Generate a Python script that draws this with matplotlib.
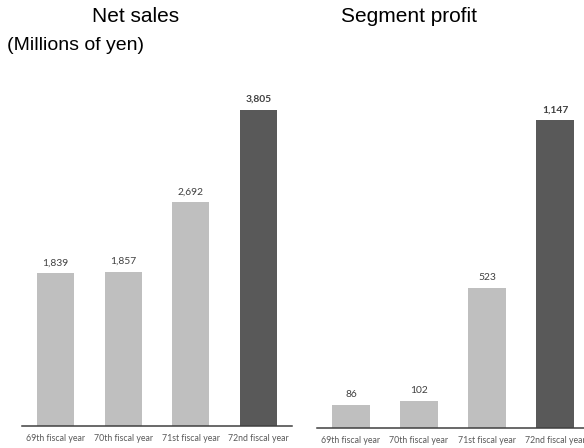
import matplotlib
matplotlib.use('Agg')
import matplotlib.pyplot as plt

# data
years = ['69th fiscal year', '70th fiscal year', '71st fiscal year', '72nd fiscal year']
net_sales = [1839, 1857, 2692, 3805]
segment_profit = [86, 102, 523, 1147]

LIGHT = '#bfbfbf'
DARK = '#595959'
W, H = 584, 448

fig = plt.figure(figsize=(W / 100, H / 100), dpi=100)


def px_axes(left, top, right, bottom):
    # axes placed in pixel coords (origin top-left)
    return fig.add_axes([left / W, 1 - bottom / H, (right - left) / W, (bottom - top) / H])


def draw_panel(ax, values, ymax):
    colors = [LIGHT] * (len(values) - 1) + [DARK]
    x = list(range(len(values)))
    bars = ax.bar(x, values, width=0.55, color=colors)
    ax.set_xlim(-0.5, len(values) - 0.5)
    ax.set_ylim(0, ymax)
    for s in ['top', 'right', 'left']:
        ax.spines[s].set_visible(False)
    ax.spines['bottom'].set_color('#404040')
    ax.spines['bottom'].set_linewidth(1.1)
    ax.set_yticks([])
    ax.set_xticks(x)
    ax.set_xticklabels(years, fontsize=6.3, color='#595959', family='Lato')
    ax.tick_params(axis='x', length=0, pad=6)
    for i, (b, v) in enumerate(zip(bars, values)):
        last = i == len(values) - 1
        ax.annotate(f'{v:,}', (b.get_x() + b.get_width() / 2, v),
                    xytext=(0, 7.5), textcoords='offset points',
                    ha='center', va='center', fontsize=7.4, family='Lato',
                    color='#404040', fontweight='bold' if last else 'normal')


ax1 = px_axes(22, 100, 292, 426)
draw_panel(ax1, net_sales, 3925)

ax2 = px_axes(317, 100, 589, 428)
draw_panel(ax2, segment_profit, 1222)

fig.text(136 / W, 1 - 17 / H, 'Net sales', ha='center', va='center',
         fontsize=15, family='Liberation Sans')
fig.text(409 / W, 1 - 17 / H, 'Segment profit', ha='center', va='center',
         fontsize=15, family='Liberation Sans')
fig.text(7 / W, 1 - 46 / H, '(Millions of yen)', ha='left', va='center',
         fontsize=14, family='Liberation Sans')

fig.savefig('out.png', dpi=100)
